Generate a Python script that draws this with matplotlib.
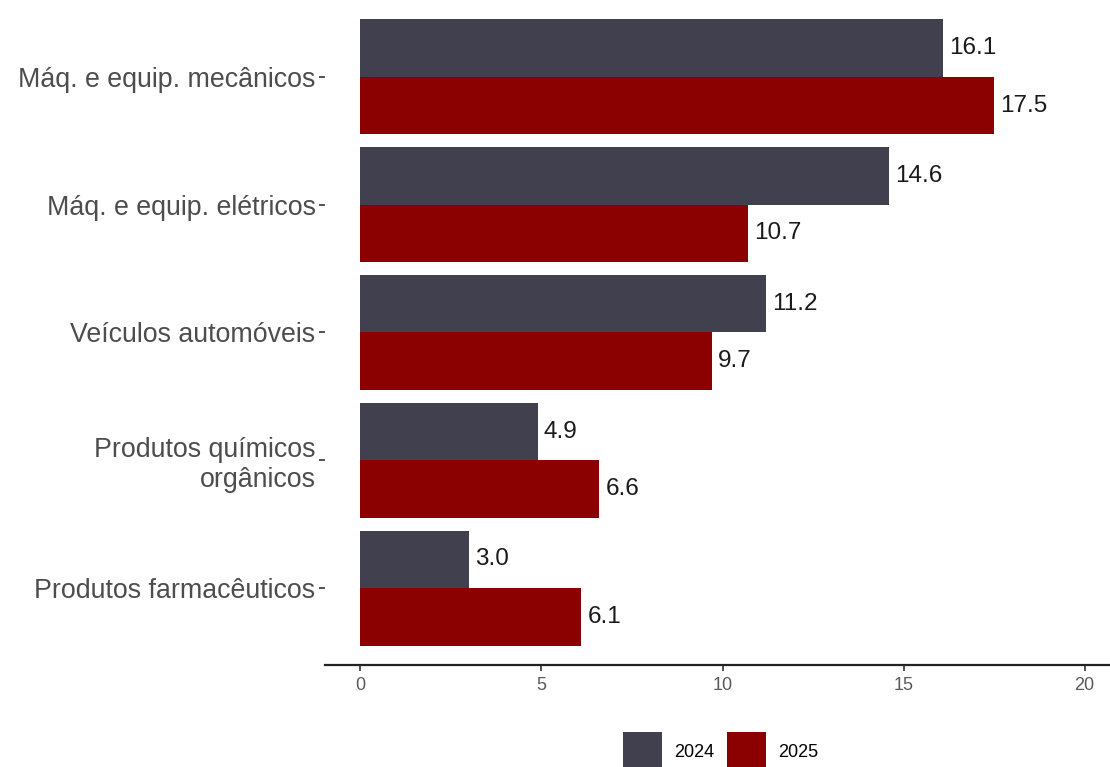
import matplotlib.pyplot as plt
import numpy as np

categorias = ['Produtos farmacêuticos', 'Produtos químicos\norgânicos',
              'Veículos automóveis', 'Máq. e equip. elétricos',
              'Máq. e equip. mecânicos']
v2024 = [3.0, 4.9, 11.2, 14.6, 16.1]
v2025 = [6.1, 6.6, 9.7, 10.7, 17.5]
anos = ['2024', '2025']
cores = ['#40404e', '#8b0000']

plt.rcParams['font.family'] = ['Liberation Sans', 'DejaVu Sans']

fig = plt.figure(figsize=(11.1, 7.67), dpi=100)
ax = fig.add_axes([0.293, 0.133, 0.707, 0.867])

y = np.arange(len(categorias))
h = 0.45
b1 = ax.barh(y + h / 2, v2024, height=h, color=cores[0], label=anos[0])
b2 = ax.barh(y - h / 2, v2025, height=h, color=cores[1], label=anos[1])

# rótulos de valor ao lado de cada barra
for barras, vals in [(b1, v2024), (b2, v2025)]:
    for r, v in zip(barras, vals):
        ax.text(v + 0.17, r.get_y() + r.get_height() / 2, f'{v:.1f}',
                va='center', ha='left', fontsize=17.5, color='#1a1a1a')

ax.set_xlim(-0.97, 20.7)
ax.set_ylim(-0.6, 4.6)
ax.set_xticks([0, 5, 10, 15, 20])
ax.set_yticks(y)
ax.set_yticklabels(categorias, fontsize=19.3, color='#4d4d4d', ha='right',
                   linespacing=1.2)
ax.tick_params(axis='x', labelsize=13, labelcolor='#5a5a5a', length=4,
               width=1.2, color='#333333', pad=5)
ax.tick_params(axis='y', length=4, width=1.2, color='#333333', pad=3)

for s in ['top', 'right', 'left']:
    ax.spines[s].set_visible(False)
ax.spines['bottom'].set_linewidth(1.6)
ax.spines['bottom'].set_color('#222222')

fig.legend(handles=[b1, b2], labels=anos, loc='upper center',
           bbox_to_anchor=(0.649, 1 - 716 / 767), ncol=2, frameon=False,
           fontsize=13, handlelength=2.15, handleheight=3.0,
           columnspacing=0.72, handletextpad=0.67)

fig.savefig('out.png', dpi=100)
